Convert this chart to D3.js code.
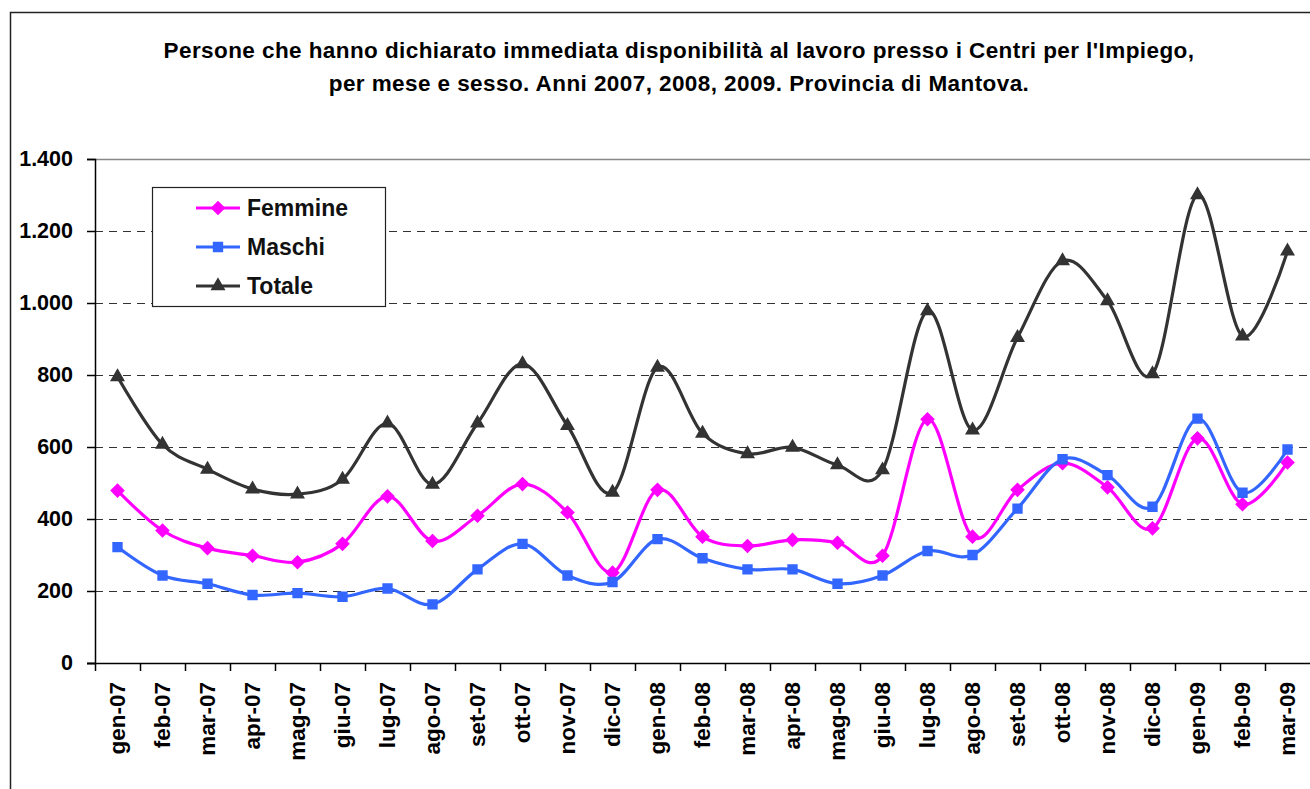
<!DOCTYPE html>
<html><head><meta charset="utf-8">
<script src="https://cdn.jsdelivr.net/npm/d3@7"></script>
<style>body{margin:0;background:#fff;} svg{display:block;font-family:"Liberation Sans",Arial,sans-serif;}</style>
</head><body>
<svg id="c" width="1310" height="789"></svg>
<script>
const months = ["gen-07","feb-07","mar-07","apr-07","mag-07","giu-07","lug-07","ago-07","set-07","ott-07","nov-07","dic-07",
"gen-08","feb-08","mar-08","apr-08","mag-08","giu-08","lug-08","ago-08","set-08","ott-08","nov-08","dic-08",
"gen-09","feb-09","mar-09"];
const femmine = [479,368,319,298,280,331,463,339,409,497,418,251,481,351,325,342,334,298,677,351,481,555,488,374,624,441,557];
const maschi  = [322,243,220,189,194,184,207,163,260,331,243,225,344,291,260,260,220,243,311,300,429,566,522,434,679,473,593];
const totale  = [795,607,538,483,469,510,666,496,666,831,659,474,821,638,581,599,550,536,978,647,904,1117,1006,803,1300,908,1144];
const yTicks = [0,200,400,600,800,1000,1200,1400];
const seriesNames = ["Femmine","Maschi","Totale"];
const titleLines = ["Persone che hanno dichiarato immediata disponibilità al lavoro presso i Centri per l'Impiego,",
"per mese e sesso. Anni 2007, 2008, 2009. Provincia di Mantova."];

const FF = "Liberation Sans, Arial, sans-serif";
const svg = d3.select("#c");
const L = 95, R = 1310, T = 159, B = 663;
const x = d3.scaleBand().domain(months).range([L, R]);
const y = d3.scaleLinear().domain([0,1400]).range([B, T]);
const fmt = v => d3.format(",")(v).replace(/,/g,".");

// outer border
svg.append("rect").attr("x",10.5).attr("y",12.5).attr("width",1400).attr("height",900)
  .attr("fill","none").attr("stroke","#222").attr("stroke-width",1.5);

// title
svg.append("g").selectAll("text").data(titleLines).join("text")
  .attr("x",679).attr("y",(d,i)=>58+i*33).attr("text-anchor","middle")
  .attr("font-size",22.5).attr("letter-spacing","0.42px").attr("font-weight","bold").attr("fill","#000").text(d=>d);

// gridlines
svg.append("g").selectAll("line").data(yTicks.filter(v=>v>0 && v<1400)).join("line")
  .attr("x1",L).attr("x2",R).attr("y1",d=>y(d)+0.5).attr("y2",d=>y(d)+0.5)
  .attr("stroke","#333").attr("stroke-dasharray","8,6").attr("stroke-width",1);
svg.append("line").attr("x1",L).attr("x2",R).attr("y1",y(1400)+0.5).attr("y2",y(1400)+0.5)
  .attr("stroke","#888").attr("stroke-width",1.5);

// y axis
const ya = svg.append("g").attr("transform",`translate(${L},0)`)
  .call(d3.axisLeft(y).tickValues(yTicks).tickFormat(fmt).tickSize(8).tickPadding(14));
ya.select(".domain").attr("stroke","#000").attr("stroke-width",1.5);
ya.selectAll(".tick line").attr("stroke","#000").attr("stroke-width",1.5);
ya.selectAll("text").attr("font-size",21.5).attr("font-weight","bold").attr("fill","#000")
  .attr("font-family",FF);

// x axis
const xa = svg.append("g").attr("transform",`translate(0,${B})`)
  .call(d3.axisBottom(x).tickSize(0).tickPadding(0));
xa.select(".domain").remove();
svg.append("line").attr("x1",L-8).attr("x2",R).attr("y1",B+0.5).attr("y2",B+0.5).attr("stroke","#000").attr("stroke-width",1.5);
svg.append("g").selectAll("line").data(months).join("line")
  .attr("x1",d=>x(d)+0.5).attr("x2",d=>x(d)+0.5).attr("y1",B).attr("y2",B+8)
  .attr("stroke","#000").attr("stroke-width",1.5);
xa.selectAll(".tick text")
  .attr("transform","translate(7,19) rotate(-90)")
  .attr("text-anchor","end").attr("dy",0).attr("dx",0)
  .attr("font-size",22.5).attr("font-weight","bold").attr("fill","#000")
  .attr("font-family",FF);

// series
const colors = {Femmine:"#FF00FF", Maschi:"#3366FF", Totale:"#333333"};
const data = {Femmine:femmine, Maschi:maschi, Totale:totale};
const symbols = {Femmine:d3.symbolDiamond2, Maschi:d3.symbolSquare2, Totale:d3.symbolTriangle2};
const symSize = {Femmine:100, Maschi:100, Totale:110};
const cx = m => x(m) + x.bandwidth()/2;
const line = d3.line().x((d,i)=>cx(months[i])).y(d=>y(d)).curve(d3.curveCatmullRom.alpha(0));

["Totale","Femmine","Maschi"].forEach(name=>{
  const g = svg.append("g");
  g.append("path").datum(data[name]).attr("d",line).attr("fill","none")
    .attr("stroke",colors[name]).attr("stroke-width",3.2).attr("stroke-linejoin","round");
  g.selectAll("path.m").data(data[name]).join("path").attr("class","m")
    .attr("transform",(d,i)=>`translate(${cx(months[i])},${y(d)})`)
    .attr("d",d3.symbol().type(symbols[name]).size(symSize[name]))
    .attr("fill",colors[name]).attr("stroke",colors[name]).attr("stroke-width",1.5);
});

// legend
const lg = svg.append("g");
lg.append("rect").attr("x",152.5).attr("y",187.5).attr("width",233).attr("height",119)
  .attr("fill","#fff").attr("stroke","#222").attr("stroke-width",1.2);
seriesNames.forEach((name,i)=>{
  const yy = 208 + i*39;
  lg.append("line").attr("x1",196).attr("x2",240).attr("y1",yy).attr("y2",yy)
    .attr("stroke",colors[name]).attr("stroke-width",3.2);
  lg.append("path").attr("transform",`translate(218,${yy})`)
    .attr("d",d3.symbol().type(symbols[name]).size(symSize[name]))
    .attr("fill",colors[name]).attr("stroke",colors[name]).attr("stroke-width",1.5);
  lg.append("text").attr("x",247).attr("y",yy+8).attr("font-size",23).attr("font-weight","bold")
    .attr("fill","#111").text(name);
});
</script>
</body></html>
